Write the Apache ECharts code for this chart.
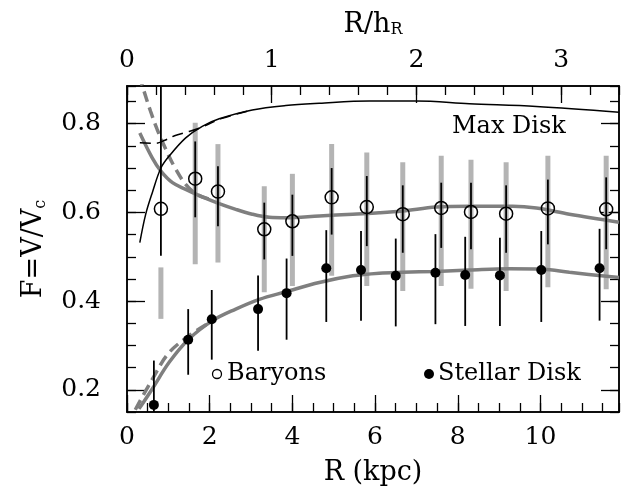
<!DOCTYPE html>
<html><head><meta charset="utf-8">
<script src="https://cdn.jsdelivr.net/npm/echarts@6/dist/echarts.min.js"></script>
<style>html,body{margin:0;padding:0;background:#fff}#c{width:630px;height:496px}</style>
</head><body><div id="c"></div>
<script>
// ---------- data ----------
const X_MAX = 11.9;          // kpc
const H_R = 3.5;             // disk scale length (kpc)
const Y_MIN = 0.15, Y_MAX = 0.885;
const yLabelValues = [0.2, 0.4, 0.6, 0.8];

// Baryons (open circles)
const rBary   = [0.82, 1.65, 2.20, 3.32, 4.00, 4.95, 5.80, 6.67, 7.60, 8.32, 9.17, 10.18, 11.59];
const fBary   = [0.608, 0.676, 0.647, 0.562, 0.580, 0.634, 0.612, 0.596, 0.610, 0.601, 0.597, 0.609, 0.607];
const baryLo  = [0.502, 0.589, 0.569, 0.494, 0.502, 0.550, 0.524, 0.509, 0.520, 0.517, 0.509, 0.528, 0.517];
const baryHi  = [0.950, 0.760, 0.704, 0.622, 0.640, 0.700, 0.682, 0.661, 0.667, 0.667, 0.661, 0.674, 0.679];
const grayLo  = [0.360, 0.483, 0.487, 0.420, 0.434, 0.457, 0.434, 0.423, 0.434, 0.428, 0.423, 0.431, 0.427];
const grayHi  = [0.476, 0.802, 0.754, 0.659, 0.687, 0.754, 0.735, 0.713, 0.728, 0.719, 0.713, 0.728, 0.728];

// Stellar disk (filled circles)
const rStar   = [0.65, 1.48, 2.05, 3.17, 3.86, 4.82, 5.66, 6.50, 7.46, 8.18, 9.02, 10.02, 11.43];
const fStar   = [0.166, 0.313, 0.359, 0.382, 0.418, 0.474, 0.470, 0.457, 0.464, 0.459, 0.458, 0.470, 0.474];
const starLo  = [0.100, 0.234, 0.268, 0.288, 0.313, 0.353, 0.356, 0.343, 0.348, 0.344, 0.344, 0.353, 0.356];
const starHi  = [0.266, 0.382, 0.425, 0.458, 0.496, 0.560, 0.558, 0.541, 0.551, 0.545, 0.543, 0.558, 0.563];

// Max disk curves (black)
const maxSolidR = [0.31, 0.45, 0.61, 0.82, 1.02, 1.42, 1.82, 2.23, 3.03, 3.84, 4.65, 5.86, 7.00, 8.28, 9.90, 11.9];
const maxSolidF = [0.532, 0.595, 0.644, 0.700, 0.727, 0.768, 0.794, 0.811, 0.831, 0.841, 0.846, 0.851, 0.851, 0.845, 0.839, 0.826];
const maxDashR  = [0.31, 0.70, 0.90, 1.15, 1.45, 1.75, 2.30, 3.00];
const maxDashF  = [0.757, 0.756, 0.762, 0.773, 0.781, 0.790, 0.812, 0.830];

// Baryon model curves (gray)
const barySolidR = [0.31, 0.61, 0.82, 1.10, 1.42, 1.82, 2.23, 2.63, 3.03, 3.44, 3.84, 4.65, 5.46, 6.10, 6.67, 7.47, 8.28, 9.33, 9.90, 10.70, 11.9];
const barySolidF = [0.779, 0.723, 0.693, 0.667, 0.652, 0.635, 0.620, 0.607, 0.596, 0.589, 0.588, 0.592, 0.596, 0.599, 0.603, 0.612, 0.614, 0.614, 0.610, 0.596, 0.578];
const baryDashR  = [0.30, 0.37, 0.57, 0.73, 0.94, 1.14, 1.42, 1.70, 2.00];
const baryDashF  = [0.910, 0.886, 0.828, 0.787, 0.742, 0.704, 0.663, 0.640, 0.630];

// Stellar model curves (gray)
const starSolidR = [0.29, 0.61, 1.02, 1.48, 2.07, 2.63, 3.20, 3.84, 4.65, 5.46, 6.10, 6.67, 7.47, 8.28, 9.25, 10.06, 10.70, 11.9];
const starSolidF = [0.157, 0.202, 0.262, 0.313, 0.356, 0.382, 0.404, 0.421, 0.442, 0.457, 0.463, 0.465, 0.467, 0.470, 0.473, 0.472, 0.465, 0.453];
const starDashR  = [0.20, 0.60, 1.00, 1.50, 2.00];
const starDashF  = [0.155, 0.222, 0.282, 0.322, 0.352];

// ---------- chart ----------
const FONT = 'DejaVu Serif';
const BLACK = '#000';
const zip = (a, b) => a.map((v, i) => [v, b[i]]);

function baseAxis(extra) {
  return Object.assign({
    type: 'value', splitLine: { show: false },
    axisLine: { show: true, onZero: false, lineStyle: { color: BLACK, width: 1.5 } },
    axisTick: { show: true, inside: true, length: 9, lineStyle: { color: BLACK, width: 1.3 } },
    axisLabel: { show: false }
  }, extra);
}
const labelStyle = { show: true, color: BLACK, fontFamily: FONT, fontSize: 25 };

const xAxes = [
  baseAxis({ position: 'bottom', min: 0, max: X_MAX, interval: 0.5 }),
  baseAxis({ position: 'bottom', min: 0, max: X_MAX, interval: 2,
    axisTick: { show: true, inside: true, length: 17, lineStyle: { color: BLACK, width: 1.3 } },
    axisLabel: Object.assign({}, labelStyle, { margin: 13, showMaxLabel: false }),
    name: 'R (kpc)', nameLocation: 'middle', nameGap: 47,
    nameTextStyle: { color: BLACK, fontFamily: FONT, fontSize: 27 } }),
  baseAxis({ position: 'top', min: 0, max: X_MAX / H_R, interval: 0.2 }),
  baseAxis({ position: 'top', min: 0, max: X_MAX / H_R, interval: 1,
    axisTick: { show: true, inside: true, length: 17, lineStyle: { color: BLACK, width: 1.3 } },
    axisLabel: Object.assign({}, labelStyle, { margin: 13, showMaxLabel: false }),
    name: 'R/h{sub|R}', nameLocation: 'middle', nameGap: 48,
    nameTextStyle: { color: BLACK, fontFamily: FONT, fontSize: 27,
      rich: { sub: { fontFamily: FONT, fontSize: 16, verticalAlign: 'bottom', lineHeight: 16 } } } })
];
const yAxes = [
  baseAxis({ position: 'left', min: Y_MIN, max: Y_MAX, interval: 0.05 }),
  baseAxis({ position: 'left', min: Y_MIN, max: Y_MAX,
    axisTick: { show: true, inside: true, length: 18, customValues: yLabelValues, lineStyle: { color: BLACK, width: 1.3 } },
    axisLabel: Object.assign({}, labelStyle, { margin: 26, customValues: yLabelValues, formatter: v => v.toFixed(1) }),
    name: 'F=V/V{sub|c}', nameLocation: 'middle', nameRotate: 90, nameGap: 78,
    nameTextStyle: { color: BLACK, fontFamily: FONT, fontSize: 27, lineHeight: 30,
      rich: { sub: { fontFamily: FONT, fontSize: 16, verticalAlign: 'bottom', lineHeight: 14 } } } }),
  baseAxis({ position: 'right', min: Y_MIN, max: Y_MAX, interval: 0.05 }),
  baseAxis({ position: 'right', min: Y_MIN, max: Y_MAX,
    axisTick: { show: true, inside: true, length: 18, customValues: yLabelValues, lineStyle: { color: BLACK, width: 1.3 } } })
];

function barSeries(xs, lo, hi, color, width, z) {
  return {
    type: 'custom', xAxisIndex: 0, yAxisIndex: 0, clip: true, z: z, silent: true,
    data: xs.map((x, i) => [x, lo[i], hi[i]]),
    renderItem: function (params, api) {
      const p1 = api.coord([api.value(0), api.value(1)]);
      const p2 = api.coord([api.value(0), api.value(2)]);
      return { type: 'line', shape: { x1: p1[0], y1: p1[1], x2: p2[0], y2: p2[1] },
        style: { stroke: color, lineWidth: width } };
    }
  };
}
function curve(xs, ys, color, width, dashed, z) {
  return {
    type: 'line', xAxisIndex: 0, yAxisIndex: 0, data: zip(xs, ys), smooth: 0.35,
    showSymbol: false, symbol: 'none', clip: true, z: z, silent: true,
    lineStyle: { color: color, width: width, type: dashed ? [11, 6] : 'solid', cap: 'butt' }
  };
}

const option = {
  animation: false,
  backgroundColor: '#fff',
  grid: { left: 127, right: 11, top: 86, bottom: 84, containLabel: false },
  xAxis: xAxes,
  yAxis: yAxes,
  series: [
    barSeries(rBary, grayLo, grayHi, '#b4b4b4', 5, 1),
    curve(barySolidR, barySolidF, '#7f7f7f', 3.5, false, 2),
    curve(baryDashR, baryDashF, '#7f7f7f', 3.5, true, 2),
    curve(starSolidR, starSolidF, '#7f7f7f', 3.5, false, 2),
    curve(starDashR, starDashF, '#7f7f7f', 3.5, true, 2),
    curve(maxSolidR, maxSolidF, BLACK, 1.5, false, 3),
    curve(maxDashR, maxDashF, BLACK, 1.5, true, 3),
    barSeries(rBary, baryLo, baryHi, BLACK, 1.8, 4),
    barSeries(rStar, starLo, starHi, BLACK, 1.8, 4),
    { type: 'scatter', xAxisIndex: 0, yAxisIndex: 0, z: 5, silent: true,
      data: zip(rBary, fBary), symbol: 'circle', symbolSize: 13,
      itemStyle: { color: 'rgba(255,255,255,0)', borderColor: BLACK, borderWidth: 1.5, opacity: 1 } },
    { type: 'scatter', xAxisIndex: 0, yAxisIndex: 0, z: 5, silent: true,
      data: zip(rStar, fStar), symbol: 'circle', symbolSize: 10,
      itemStyle: { color: BLACK, opacity: 1 } }
  ],
  graphic: [
    { type: 'text', x: 452, y: 127, style: { text: 'Max Disk', fontFamily: FONT, fontSize: 24, fill: BLACK, verticalAlign: 'middle' } },
    { type: 'circle', shape: { cx: 217, cy: 374, r: 4.5 }, style: { fill: '#fff', stroke: BLACK, lineWidth: 1.3 } },
    { type: 'text', x: 227, y: 374, style: { text: 'Baryons', fontFamily: FONT, fontSize: 24, fill: BLACK, verticalAlign: 'middle' } },
    { type: 'circle', shape: { cx: 429, cy: 374, r: 5 }, style: { fill: BLACK } },
    { type: 'text', x: 438, y: 374, style: { text: 'Stellar Disk', fontFamily: FONT, fontSize: 24, fill: BLACK, verticalAlign: 'middle' } }
  ]
};
const chart = echarts.init(document.getElementById('c'), null, { renderer: 'canvas' });
chart.setOption(option);
</script>
</body></html>
